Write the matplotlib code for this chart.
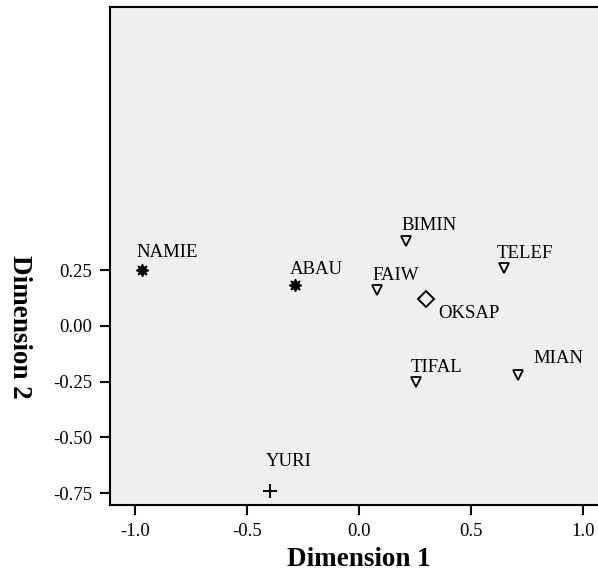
import matplotlib
matplotlib.use("Agg")
import matplotlib.pyplot as plt

# object points from the plot
names = ["NAMIE", "ABAU", "BIMIN", "TELEF", "FAIW", "OKSAP", "TIFAL", "MIAN", "YURI"]
dim1 = [-0.97, -0.287, 0.207, 0.646, 0.078, 0.298, 0.253, 0.71, -0.399]
dim2 = [0.25, 0.185, 0.38, 0.26, 0.16, 0.12, -0.252, -0.218, -0.74]
group = ["a", "a", "b", "b", "b", "c", "b", "b", "d"]

# label offsets in pixels (dx, dy)
label_off = [(-6, 13), (-5, 11), (-4, 11), (-7, 10), (-4, 10),
             (12, -19), (-5, 10), (15, 12), (-4, 25)]

styles = {
    "a": dict(marker=(8, 1, 0), ms=9, mfc="black", mec="black", mew=1.0),
    "b": dict(marker="v", ms=7, mfc="none", mec="black", mew=1.3),
    "c": dict(marker="D", ms=8.5, mfc="none", mec="black", mew=1.4),
    "d": dict(marker="+", ms=10, mec="black", mew=1.4),
}

plt.rcParams["font.family"] = "Liberation Serif"

fig = plt.figure(figsize=(5.98, 5.75), dpi=100)
ax = fig.add_axes([0.184, 0.1217, 0.816, 0.8661])
ax.set_facecolor("#efefef")

for x, y, g in zip(dim1, dim2, group):
    ax.plot(x, y, linestyle="none", **styles[g])

for x, y, n, off in zip(dim1, dim2, names, label_off):
    ax.annotate(n, (x, y), xytext=off, textcoords="offset pixels",
                ha="left", va="baseline", fontsize=13.5)

ax.set_xlim(-1.113, 1.066)
ax.set_ylim(-0.803, 1.43)
ax.set_xticks([-1.0, -0.5, 0.0, 0.5, 1.0])
ax.set_xticklabels(["%.1f" % v for v in [-1.0, -0.5, 0.0, 0.5, 1.0]])
ax.set_yticks([-0.75, -0.5, -0.25, 0.0, 0.25])
ax.set_yticklabels(["%.2f" % v for v in [-0.75, -0.5, -0.25, 0.0, 0.25]])
ax.tick_params(direction="out", length=7, width=1.5, labelsize=13.5, pad=6)

for s in ["left", "bottom", "top"]:
    ax.spines[s].set_linewidth(1.5)
ax.spines["right"].set_visible(False)

ax.set_xlabel("Dimension 1", fontsize=19.5, fontweight="bold", labelpad=5)
ax.xaxis.set_label_coords(0.509, -0.085)
ax.set_ylabel("Dimension 2", fontsize=19.5, fontweight="bold", rotation=-90, va="center")
ax.yaxis.set_label_coords(-0.185, 0.357)

fig.savefig("out.png", dpi=100)
